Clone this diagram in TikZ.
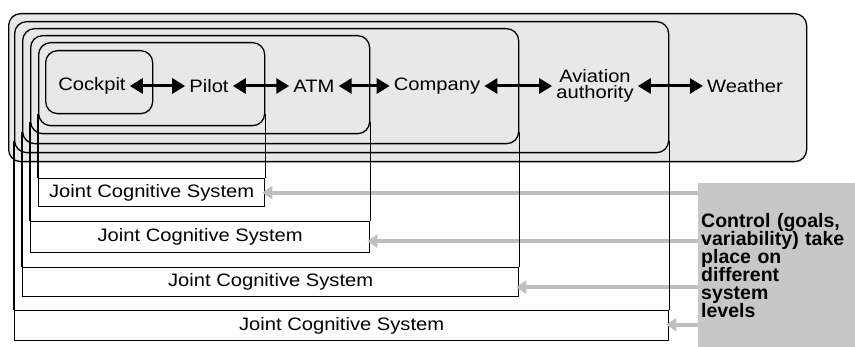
\documentclass[tikz,border=0pt]{standalone}
\usepackage{fontspec}
\setmainfont{Liberation Sans}
\newfontfamily\widesans{Liberation Sans}[FakeStretch=1.12]
\usetikzlibrary{arrows.meta,positioning}
\newcommand\ctrlfont{\bfseries\fontsize{19.5}{18}\selectfont\setlength{\lineskiplimit}{-10pt}}

\begin{document}
\begin{tikzpicture}[x=1pt,y=-1pt,
	sysbox/.style={draw=black,line width=1.3pt,fill=gray!18,rounded corners=12pt,inner sep=0pt,anchor=north west},
	jcsbox/.style={draw=black,line width=1.3pt,fill=white,inner sep=0pt,anchor=north west,font=\widesans\fontsize{18}{18}\selectfont},
	lbl/.style={font=\widesans\fontsize{18}{16.5}\selectfont,inner sep=4pt,align=center},
	link/.style={{Triangle[length=13pt,width=15pt]}-{Triangle[length=13pt,width=15pt]},line width=3pt},
	ctrlarrow/.style={-{Triangle[length=10pt,width=13pt]},line width=4pt,draw=gray!50,fill=gray!50,shorten >=-3pt}]
	\useasboundingbox (0,0) rectangle (855,347);

	% nested systems, outermost first
	\foreach \name/\x/\y/\w/\h in {weatherbox/8/13/798/148, authbox/14/21/654/131,
	    companybox/22/28/496/115, atmbox/30/35/339/98, pilotbox/38/42/226/83, cockpitbox/45/50/107/63}
	  \node[sysbox,minimum width=\w,minimum height=\h] (\name) at (\x,\y) {};

	% control box
	\node[draw=none,fill=gray!44,anchor=north west,minimum width=157,minimum height=164,
	  text width=151pt,inner xsep=3pt,align=left,font=\ctrlfont] (ctrl) at (698,183)
	  {Control (goals,\\variability) take\\place on\\different\\system\\levels};

	% joint cognitive systems
	\node[jcsbox,minimum width=226,minimum height=28] (jcs1) at (38,178) {Joint Cognitive System};
	\node[jcsbox,minimum width=339,minimum height=31] (jcs2) at (30,221) {Joint Cognitive System};
	\node[jcsbox,minimum width=496,minimum height=29] (jcs3) at (22,267) {Joint Cognitive System};
	\node[jcsbox,minimum width=654,minimum height=30] (jcs4) at (14,310) {Joint Cognitive System};

	\foreach \j/\d in {jcs1/0,jcs2/-4,jcs3/-5,jcs4/1}
	  \draw[ctrlarrow] ([yshift=\d pt]ctrl.west |- \j.east) -- ([yshift=\d pt]\j.east);

	\foreach \b/\j in {pilotbox/jcs1, atmbox/jcs2, companybox/jcs3, authbox/jcs4} {
	  \draw[line width=1.3pt] ([yshift=12pt]\b.south west) -- (\j.north west);
	  \draw[line width=1.3pt] ([yshift=12pt]\b.south east) -- (\j.north east);
	}

	% labels
	\node[lbl] (cockpit) at (92,86) {Cockpit};
	\node[lbl] (pilot) at (209,86) {Pilot};
	\node[lbl] (atm) at (314,86) {ATM};
	\node[lbl] (company) at (437,86) {Company};
	\node[lbl] (auth) at (595,86) {Aviation\\authority};
	\node[lbl] (weather) at (745,86) {Weather};

	\draw[link] (cockpit) -- (pilot);
	\draw[link] (pilot) -- (atm);
	\draw[link] (atm) -- (company);
	\draw[link] (company) -- (auth);
	\draw[link] (auth) -- (weather);
\end{tikzpicture}
\end{document}
